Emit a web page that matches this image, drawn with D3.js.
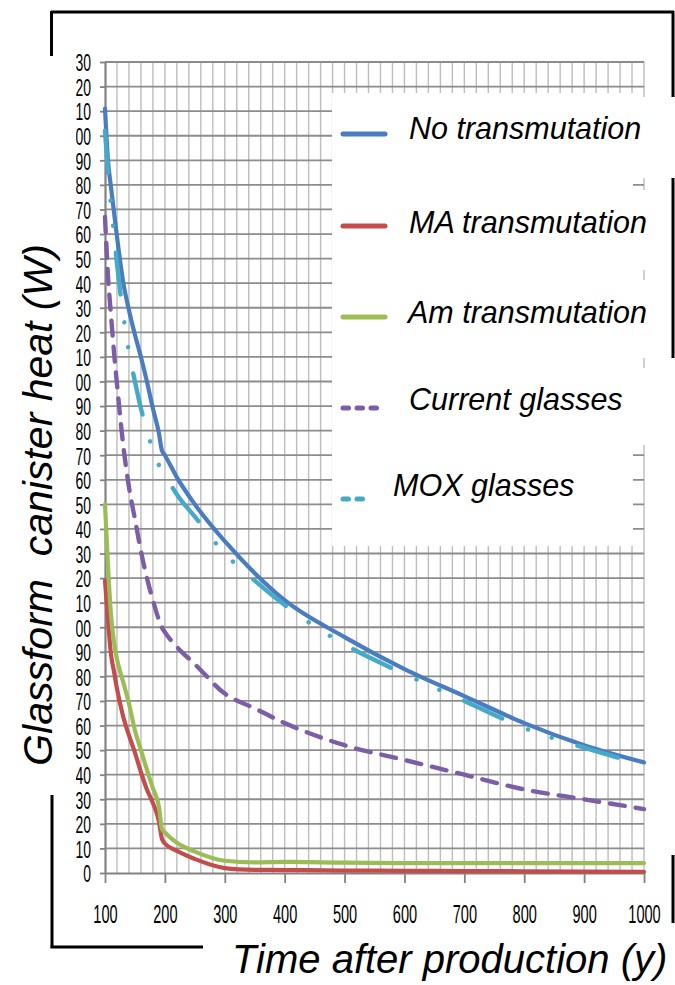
<!DOCTYPE html>
<html>
<head>
<meta charset="utf-8">
<script src="https://cdn.jsdelivr.net/npm/d3@7"></script>
<style>
  body { margin: 0; background: #fff; }
  svg { display: block; font-family: "Liberation Sans", Arial, sans-serif; }
</style>
</head>
<body>
<div id="chart"></div>
<script>
// values (W per canister)
var years        = [100,105,110,115,120,130,140,150,160,170,180,190,195,200,220,250,300,350,400,500,600,700,800,900,1000];
var noTrans      = [311,290,279,269,259,241,229,219,210,200,189,179,172,170,161,150,135,122,111,96,83,72,61,52,45];
var maTrans      = [119,103,89,82,75,64,56,49,41,34,28.5,21,14,12,9,5.7,2,1.3,1.2,1,0.9,0.8,0.7,0.6,0.5];
var amTrans      = [150,125,105,94,87,78,69,58,50,42,34.5,27,18,16.5,12.3,8.7,5,4.3,4.5,4.2,4,4,4,4,4];
var currentGlass = [267,243,227,212,199,175,157,144,131,120,111,103,100,98,92,85,73,67,61,52,46,40,34,30,26];
var moxGlass     = [302,285,272,260,248,228,212,200,189,180,172,166,164,162,154,145,130,119,109,93,81,70,59,51,44];

var seriesNames = ["No transmutation", "MA transmutation", "Am transmutation", "Current glasses", "MOX glasses"];
var xTicks = [100,200,300,400,500,600,700,800,900,1000];
var yTicks = d3.range(0, 331, 10);

var width = 675, height = 985;

var svg = d3.select("#chart")
  .append("svg")
  .attr("width", width)
  .attr("height", height);

var x = d3.scaleLinear().domain([100, 1000]).range([105, 644]);
var y = d3.scaleLinear().domain([0, 330]).range([873, 62]);

// gridlines
svg.append("g").selectAll("line")
  .data(d3.range(120, 1001, 20)).enter().append("line")
  .attr("x1", d => x(d)).attr("x2", d => x(d))
  .attr("y1", y(330)).attr("y2", y(0))
  .attr("stroke", "#bdbdbd").attr("stroke-width", 1.4);

svg.append("g").selectAll("line")
  .data(yTicks.slice(1)).enter().append("line")
  .attr("x1", x(100)).attr("x2", x(1000))
  .attr("y1", d => y(d)).attr("y2", d => y(d))
  .attr("stroke", "#8c8c8c").attr("stroke-width", 1.8);

// axes
var xAxis = d3.axisBottom(x).tickValues(xTicks).tickFormat(d3.format("d")).tickSize(10).tickSizeOuter(0);
var yAxis = d3.axisLeft(y).tickValues(yTicks).tickFormat(d3.format("d")).tickSize(5).tickSizeOuter(0);

var gx = svg.append("g")
  .attr("transform", "translate(0," + y(0) + ")")
  .call(xAxis);

// the three-digit labels lose their first digit in the original
svg.append("clipPath").attr("id", "yclip")
  .append("rect").attr("x", 76).attr("y", 0).attr("width", 620).attr("height", height);

var gy = svg.append("g").attr("clip-path", "url(#yclip)")
  .append("g")
  .attr("transform", "translate(" + x(100) + ",0)")
  .call(yAxis);

[gx, gy].forEach(function (g) {
  g.select(".domain").attr("stroke", "#828282").attr("stroke-width", 2.2);
  g.selectAll(".tick line").attr("stroke", "#828282").attr("stroke-width", 1.8);
  g.selectAll(".tick text")
    .attr("fill", "#000")
    .attr("font-family", "'Liberation Sans', Arial, sans-serif");
});

gx.selectAll(".tick text")
  .style("font-size", "26px")
  .attr("y", 50).attr("dy", 0)
  .attr("transform", "scale(0.56,1)");

gy.selectAll(".tick text")
  .style("font-size", "24.5px")
  .attr("x", -14 / 0.57)
  .attr("dy", "0.36em")
  .attr("transform", "scale(0.57,1)");

// series
var series = [
  { name: seriesNames[0], values: noTrans,      color: "#4a7dc0", dash: null },
  { name: seriesNames[1], values: maTrans,      color: "#c24d4a", dash: null },
  { name: seriesNames[2], values: amTrans,      color: "#9bbd55", dash: null },
  { name: seriesNames[3], values: currentGlass, color: "#7c5ea6", dash: "15,11" },
  { name: seriesNames[4], values: moxGlass,     color: "#44aac8", dash: "42,28,0.1,25,0.1,27" }
];

var line = d3.line()
  .x(d => x(d[0]))
  .y(d => y(d[1]))
  .curve(d3.curveMonotoneX);

svg.append("g").selectAll("path")
  .data(series).enter().append("path")
  .attr("d", s => line(years.map((yr, i) => [yr, s.values[i]])))
  .attr("fill", "none")
  .attr("stroke", s => s.color)
  .attr("stroke-width", s => s.dash ? 4.4 : 4.2)
  .attr("stroke-linecap", "round")
  .attr("stroke-linejoin", "round")
  .attr("stroke-dasharray", s => s.dash);

// legend covers (several overlapping white boxes in the original)
var covers = [
  [332, 93, 301, 453],
  [633, 97, 42, 81],
  [633, 190, 42, 80],
  [633, 280, 42, 78],
  [633, 368, 42, 77]
];
svg.append("g").selectAll("rect")
  .data(covers).enter().append("rect")
  .attr("x", d => d[0]).attr("y", d => d[1])
  .attr("width", d => d[2]).attr("height", d => d[3])
  .attr("fill", "#fff");

var legY    = [134, 226, 317, 408, 499];
var legText = [139, 233, 323, 410, 496];
var legX    = [409, 409, 408, 409, 393];
var legLen  = [42, 42, 42, 37, 26];

var leg = svg.append("g");
series.forEach(function (s, i) {
  leg.append("line")
    .attr("x1", 343).attr("x2", 343 + legLen[i])
    .attr("y1", legY[i]).attr("y2", legY[i])
    .attr("stroke", s.color)
    .attr("stroke-width", 5)
    .attr("stroke-linecap", "round")
    .attr("stroke-dasharray", s.dash ? "5.5,8.5" : null);
  leg.append("text")
    .attr("x", legX[i]).attr("y", legText[i])
    .style("font-size", "30.5px")
    .style("font-style", "italic")
    .text(s.name);
});

// frame pieces
var frame = [
  [51, 12, 674, 12],
  [51.5, 11, 51.5, 56],
  [673, 11, 673, 97],
  [673, 178, 673, 358],
  [673, 855, 673, 923],
  [52, 795, 52, 948],
  [50.5, 947, 203, 947]
];
svg.append("g").selectAll("line")
  .data(frame).enter().append("line")
  .attr("x1", d => d[0]).attr("y1", d => d[1])
  .attr("x2", d => d[2]).attr("y2", d => d[3])
  .attr("stroke", "#000").attr("stroke-width", 3);

// titles
svg.append("text")
  .attr("transform", "translate(52,505) rotate(-90)")
  .attr("text-anchor", "middle")
  .style("font-size", "41px")
  .style("font-style", "italic")
  .style("white-space", "pre")
  .text("Glassform  canister heat (W)");

svg.append("text")
  .attr("x", 232).attr("y", 973)
  .style("font-size", "40px")
  .style("font-style", "italic")
  .text("Time after production (y)");
</script>
</body>
</html>
